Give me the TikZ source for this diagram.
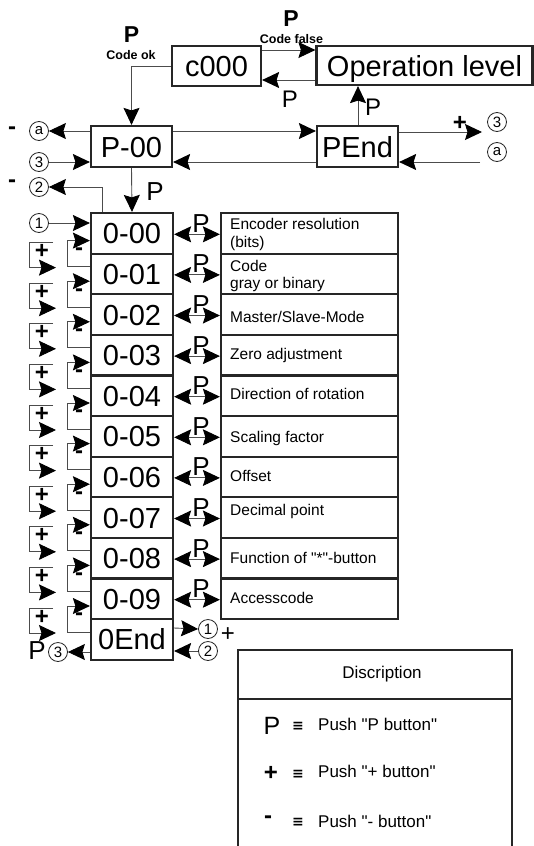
\documentclass[tikz,border=0pt]{standalone}
\usepackage{fontspec}
\setmainfont{Liberation Sans}
\newfontfamily\qfont{Liberation Sans}
\newfontfamily\symfont{DejaVu Sans}
\usetikzlibrary{arrows.meta}
\newcommand\myfs[1]{\fontsize{#1}{#1}\selectfont}
\tikzset{bt/.tip={Stealth[length=17pt,width=16pt,inset=2.5pt,color=black]}}
\begin{document}
\begin{tikzpicture}[x=1pt,y=-1pt,
  conn/.style={draw=black!70,line width=0.9pt},
  bigbox/.style={draw=black!85,line width=2.2pt,inner sep=0pt,font=\myfs{29},text height=21pt,text depth=0pt},
  rbox/.style={draw=black!85,line width=2.2pt,inner sep=0pt,minimum width=177pt,minimum height=40.6pt},
  desc/.style={anchor=base west,inner sep=0pt,font=\myfs{15.5}},
  plab/.style={anchor=base,inner sep=0pt,font=\myfs{26}},
  circ/.style={circle,draw=black!85,line width=0.8pt,minimum size=19pt,inner sep=0pt,font=\myfs{15}},
  sign/.style={inner sep=0pt,font=\bfseries\myfs{24}},
  blab/.style={anchor=base,inner sep=0pt,font=\bfseries\myfs{12.5}},
  legt/.style={anchor=base west,inner sep=0pt,font=\qfont\myfs{17}},
  equiv/.style={inner sep=0pt,font=\symfont\bfseries\myfs{14}},
]
\useasboundingbox (0,0) rectangle (534,846);

% top boxes
\node[bigbox,minimum width=89pt,minimum height=40pt] (c000) at (216.5,66) {c000};
\node[bigbox,minimum width=216pt,minimum height=39pt] (OL) at (424.5,65.5) {Operation level};
\node[bigbox,minimum width=81pt,minimum height=41pt] (P00) at (131.5,146.5) {P-00};
\node[bigbox,minimum width=81pt,minimum height=41pt] (PEnd) at (357.5,146.5) {PEnd};

% column
\foreach \i/\t in {0/0-00,1/0-01,2/0-02,3/0-03,4/0-04,5/0-05,6/0-06,7/0-07,8/0-08,9/0-09,10/0End}
  \node[bigbox,minimum width=82pt,minimum height=40.6pt] (L\i) at (132,{233.3+40.6*\i}) {\t};
\foreach \i in {0,...,9}
  \node[rbox] (R\i) at (309.5,{233.3+40.6*\i}) {};
\foreach \i in {0,...,9} {
  \draw[conn,bt-bt] ([yshift=-1pt]L\i.east) -- ([yshift=-1pt]R\i.west);
  \node[plab] (PL\i) at (201,{232.3+40.6*\i}) {P};
}

% right texts
\node[desc] (t0a) at (230,229) {Encoder resolution};
\node[desc] (t0b) at (230,247) {(bits)};
\node[desc] (t1a) at (230,271) {Code};
\node[desc] (t1b) at (230,288) {gray or binary};
\node[desc] (t2) at (230,322) {Master/Slave-Mode};
\node[desc] (t3) at (230,359) {Zero adjustment};
\node[desc] (t4) at (230,399) {Direction of rotation};
\node[desc] (t5) at (230,442) {Scaling factor};
\node[desc] (t6) at (230,481) {Offset};
\node[desc] (t7) at (230,515) {Decimal point};
\node[desc,font=\qfont\myfs{15.5}] (t8) at (230,563) {Function of "*"-button};
\node[desc] (t9) at (230,603) {Accesscode};

% left brackets
\foreach \k in {0,...,9} {
  \pgfmathsetmacro\b{213+40.6*(\k+1)}
  \pgfmathtruncatemacro\kk{\k+1}
  \pgfmathsetmacro\ya{\b+13}
  \pgfmathsetmacro\yb{\b-13}
  \pgfmathsetmacro\yc{\b-11}
  \pgfmathsetmacro\yd{\b+14}
  \draw[conn,-bt] (L\kk.west |- 0,\ya) -- (67,\ya) -- (67,\yb) -- (L\k.west |- 0,\yb);
  \node[sign] (m\k) at (79,\b-2) {-};
  \draw[conn,-bt] (53,\yc) -- (29,\yc) -- (29,\yd) -- (56,\yd);
  \node[sign] (p\k) at (42,\b-2) {+};
}

% circled labels
\node[circ] (ca1) at (39,131) {a};
\node[circ] (c3a) at (39,162) {3};
\node[circ] (c2a) at (39,187) {2};
\node[circ] (c1a) at (39,223) {1};
\node[circ] (c3r) at (497,122) {3};
\node[circ] (car) at (497,152) {a};
\node[circ] (c1b) at (208,629) {1};
\node[circ] (c2b) at (208,651) {2};
\node[circ] (c3b) at (58,652) {3};
\coordinate (tr3) at (482,132);
\coordinate (tra) at (480,162);

% signs
\node[sign] (mA) at (12,131) {-};
\node[sign] (mB) at (12,184) {-};
\node[sign] (pTR) at (460,123) {+};
\node[inner sep=0pt,font=\myfs{24}] (pB) at (228,635) {+};

% labels
\node[anchor=base,inner sep=0pt,font=\bfseries\myfs{23}] (Pok) at (131.5,42) {P};
\node[blab] (cok) at (131,59) {Code ok};
\node[anchor=base,inner sep=0pt,font=\bfseries\myfs{23}] (Pf) at (291,26) {P};
\node[blab] (cf) at (291.5,43) {Code false};
\node[plab,font=\myfs{24}] (Pret) at (290,107) {P};
\node[plab,font=\myfs{24}] (Pup) at (373,115) {P};
\node[plab] (Pdn) at (155,200) {P};
\node[plab] (Pbl) at (37,659) {P};

% connectors
\draw[conn,-bt] (c000.west) -| (P00.north);
\draw[conn,-bt] (c000.east |- 0,50) -- (OL.west |- 0,50);
\draw[conn,-bt] (OL.west |- 0,80) -- (c000.east |- 0,80);
\draw[conn,-bt] (PEnd.north -| 358,0) -- (OL.south -| 358,0);
\draw[conn,-bt] (P00.east |- 0,131) -- (PEnd.west |- 0,131);
\draw[conn,-bt] (PEnd.west |- 0,162) -- (P00.east |- 0,162);
\draw[conn,-bt] (PEnd.east |- 0,132) -- (tr3);
\draw[conn,-bt] (tra) -- (PEnd.east |- 0,162);
\draw[conn,-bt] (P00.west |- 0,131) -- (ca1.east);
\draw[conn,-bt] (c3a.east) -- (P00.west |- 0,162);
\draw[conn,-bt] (L0.north -| 102,0) |- (c2a.east);
\draw[conn,-bt] (P00.south) -- (L0.north);
\draw[conn,-bt] (c1a.east) -- (L0.west |- 0,223);
\draw[conn,-bt] (L10.east |- 0,628) -- (c1b.west);
\draw[conn,-bt] (c2b.west) -- (L10.east |- 0,651);
\draw[conn,-bt] (L10.west |- 0,652) -- (c3b.east);

% description
\draw[line width=2pt,draw=black!85] (238,850) -- (238,650) -- (512,650) -- (512,850);
\draw[line width=2pt,draw=black!85] (238,699) -- (512,699);
\node[anchor=base,inner sep=0pt,font=\myfs{17}] (dh) at (382,678) {Discription};
\node[plab,font=\myfs{25}] (lP) at (272,734) {P};
\node[equiv] (e1) at (298,726) {≡};
\node[legt] (l1) at (318,730) {Push "P button"};
\node[inner sep=0pt,font=\bfseries\myfs{24}] (lplus) at (271,773) {+};
\node[equiv] (e2) at (298,774) {≡};
\node[legt] (l2) at (318,777) {Push "+ button"};
\node[inner sep=0pt,font=\bfseries\myfs{24}] (lminus) at (268,820) {-};
\node[equiv] (e3) at (298,822) {≡};
\node[legt] (l3) at (318,827) {Push "- button"};
\end{tikzpicture}
\end{document}
